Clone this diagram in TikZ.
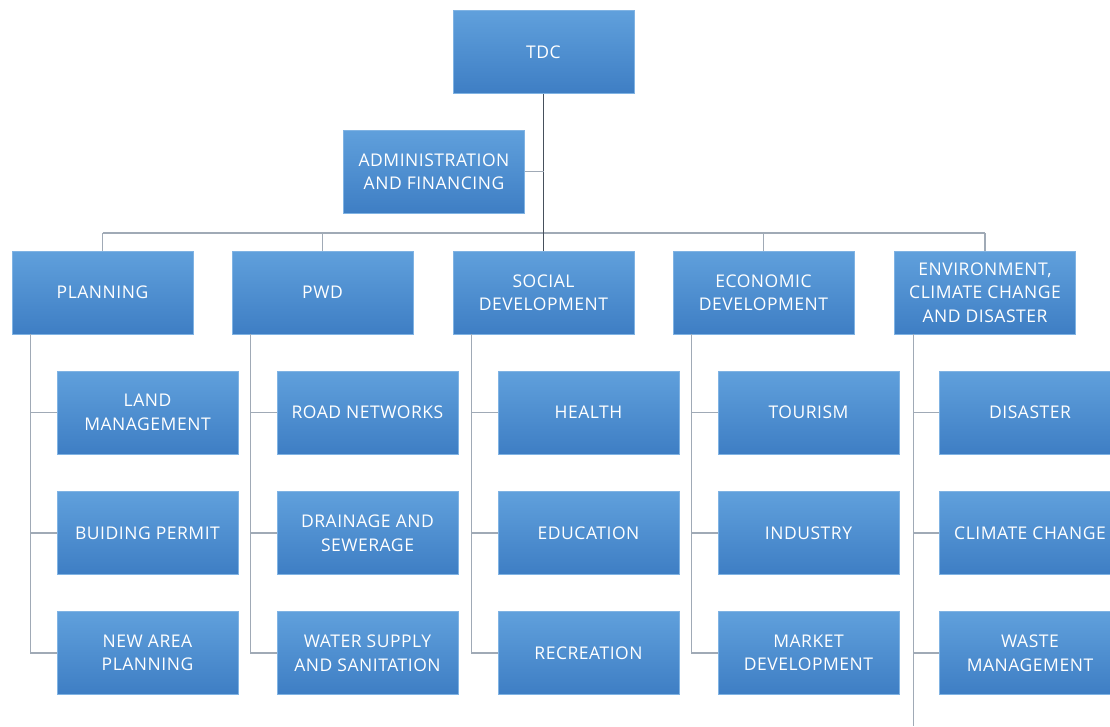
\documentclass[tikz,border=0pt]{standalone}
\usepackage{fontspec}
\setmainfont{Open Sans}[LetterSpace=3]
\usepackage{tikz}
\usetikzlibrary{positioning}
\definecolor{boxtop}{RGB}{96,160,220}
\definecolor{boxbot}{RGB}{62,126,196}
\definecolor{wire}{RGB}{160,170,182}
\definecolor{trunk}{RGB}{70,80,92}
\begin{document}
\begin{tikzpicture}
  [
    x=1pt, y=-1pt,
    Unit/.style={rectangle, top color=boxtop, bottom color=boxbot, draw=boxtop!80!white, line width=0.6pt,
      minimum width=181pt, minimum height=83pt, inner sep=0pt, align=center, text=white,
      font=\fontsize{17.5}{23.5}\selectfont},
    Wire/.style={draw=wire, line width=1.3pt},
    Trunk/.style={draw=trunk, line width=1.3pt}
  ]
  \useasboundingbox (0,0) rectangle (1110,726);
  % Nodes
  \node[Unit] (tdc) at(543.5, 52) {TDC};
  \node[Unit] (admin) at(434, 171.5) {ADMINISTRATION\\AND FINANCING};
  \node[Unit] (plan) at(102.5, 292.5) {PLANNING};
  \node[Unit] (pwd) at(322.5, 292.5) {PWD};
  \node[Unit] (soc) at(543.5, 292.5) {SOCIAL\\DEVELOPMENT};
  \node[Unit] (eco) at(763.5, 292.5) {ECONOMIC\\DEVELOPMENT};
  \node[Unit] (env) at(985, 292.5) {ENVIRONMENT,\\CLIMATE CHANGE\\AND DISASTER};
  \node[Unit] (plan1) at(147.5, 412.5) {LAND\\MANAGEMENT};
  \node[Unit] (plan2) at(147.5, 533) {BUIDING PERMIT};
  \node[Unit] (plan3) at(147.5, 653) {NEW AREA\\PLANNING};
  \node[Unit] (pwd1) at(367.5, 412.5) {ROAD NETWORKS};
  \node[Unit] (pwd2) at(367.5, 533) {DRAINAGE AND\\SEWERAGE};
  \node[Unit] (pwd3) at(367.5, 653) {WATER SUPPLY\\AND SANITATION};
  \node[Unit] (soc1) at(588.5, 412.5) {HEALTH};
  \node[Unit] (soc2) at(588.5, 533) {EDUCATION};
  \node[Unit] (soc3) at(588.5, 653) {RECREATION};
  \node[Unit] (eco1) at(808.5, 412.5) {TOURISM};
  \node[Unit] (eco2) at(808.5, 533) {INDUSTRY};
  \node[Unit] (eco3) at(808.5, 653) {MARKET\\DEVELOPMENT};
  \node[Unit] (env1) at(1030, 412.5) {DISASTER};
  \node[Unit] (env2) at(1030, 533) {CLIMATE CHANGE};
  \node[Unit] (env3) at(1030, 653) {WASTE\\MANAGEMENT};
  \coordinate (busL) at (plan.north |- 0,233);
  \coordinate (busR) at (env.north |- 0,233);
  \coordinate (envEnd) at ([xshift=19pt]env.south west |- 0,726);
  % Lines
  \path [Wire] (busL) -- (busR);
  \path [Wire] (busL) -- (plan.north);
  \path [Wire] (pwd.north |- busL) -- (pwd.north);
  \path [Wire] (eco.north |- busL) -- (eco.north);
  \path [Wire] (busR) -- (env.north);
  \path [Trunk] (tdc.south) -- (soc.north);
  \path [Wire] (admin.east) -- (admin.east -| tdc.south);
  \foreach \p in {plan, pwd, soc, eco} {
    \path [Wire] ([xshift=19pt]\p.south west) |- (\p3.west);
    \path [Wire] ([xshift=19pt]\p.south west |- \p1.west) -- (\p1.west);
    \path [Wire] ([xshift=19pt]\p.south west |- \p2.west) -- (\p2.west);
  }
  \path [Wire] ([xshift=19pt]env.south west) -- (envEnd);
  \path [Wire] (envEnd |- env1.west) -- (env1.west);
  \path [Wire] (envEnd |- env2.west) -- (env2.west);
  \path [Wire] (envEnd |- env3.west) -- (env3.west);
\end{tikzpicture}
\end{document}
